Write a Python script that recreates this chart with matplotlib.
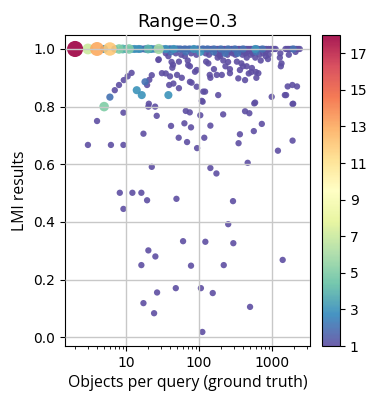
import numpy as np
import matplotlib.pyplot as plt
from matplotlib.ticker import FuncFormatter

# queries whose LMI result was perfect (y = 1.0): objects per query and how many queries
top_x = [2, 3, 4, 5, 6, 7, 8, 9, 10, 11, 12, 13, 14, 15, 16, 17, 18, 19, 20, 21, 22, 24, 25, 26,
         28, 30, 31, 33, 35, 37, 39, 41, 43, 45, 47, 50, 52, 55, 58, 61, 64, 67, 70, 74, 78, 82,
         85, 90, 96, 101, 107, 113, 119, 126, 131, 139, 147, 152, 160, 171, 180, 188, 199, 212,
         224, 236, 250, 261, 277, 290, 309, 325, 344, 361, 380, 402, 425, 447, 470, 498, 521,
         552, 590, 620, 655, 700, 742, 790, 835, 890, 950, 1010, 1060, 1120, 1530, 1610, 1690,
         1780, 1860, 1950, 2050, 2160, 2280, 2400]
top_c = [18, 7, 13, 3, 12, 2, 5, 4, 3, 5, 2, 3, 2, 3, 2, 1, 2, 2, 4, 2, 3, 2, 1, 2,
         6, 2, 1, 2, 3, 1, 2, 2, 1, 3, 1, 2, 1, 2, 1, 1, 2, 1, 1, 2, 1, 1,
         3, 1, 2, 1, 1, 2, 1, 1, 2, 1, 1, 1, 2, 1, 1, 1, 2, 1,
         1, 1, 2, 1, 1, 1, 2, 1, 1, 1, 1, 2, 1, 1, 1, 1, 1,
         1, 3, 2, 1, 1, 2, 1, 1, 1, 1, 1, 1, 1, 1, 1, 1,
         1, 1, 2, 1, 1, 1, 1]

# the rest of the queries
pts_x = [35, 41, 48, 57, 66, 78, 92, 104, 123, 137, 158, 171, 193, 206, 228, 245, 268, 288,
         315, 338, 372, 395, 432, 459, 512, 545, 606, 668, 760, 818, 900, 1300, 1700, 2100,
         28, 38, 42, 44, 43, 53, 64, 70, 75, 35, 40, 50, 58, 88, 44.5, 53, 39, 79, 114, 109,
         134, 140, 143, 180, 215, 250, 205, 265, 330, 380, 450, 363, 345, 427, 530, 600, 650,
         590, 700, 820, 880, 1280, 1350, 1320, 1640, 1900, 2200, 1500, 1950, 587, 990,
         71, 93, 75, 93, 121, 125, 160, 175, 183, 195, 230, 265, 400, 450, 480, 520, 610,
         31, 27.7, 1560,
         7, 8, 9.3, 10.5, 11.9, 19.4, 20.8, 22.5,
         5, 6, 14, 16.4, 18.2, 38,
         9.2, 4.0, 3.0, 6.2, 9.2, 20.5, 20.2, 25, 26.3, 17.3, 41.3, 52.6, 65.8, 74.6, 63, 77.6,
         68.5, 94, 104, 112, 143, 118, 214, 427, 489, 571, 363, 348, 563, 725, 464, 1205,
         1913, 1913, 22.5, 143, 173, 8.2, 12.2, 16.2, 19.4, 49, 292, 9.2,
         251, 60.4, 122, 295, 20.2, 25.2, 16.2, 77.6, 218, 1400, 26.6, 48, 106, 154, 17.3,
         24.2, 500, 111]
pts_y = [0.985, 0.99, 0.985, 0.98, 0.99, 0.985, 0.98, 0.99, 0.985, 0.98, 0.99, 0.985, 0.98,
         0.99, 0.985, 0.98, 0.99, 0.985, 0.98, 0.985, 0.99, 0.98, 0.985, 0.99, 0.98, 0.985,
         0.99, 0.98, 0.985, 0.99, 0.98, 0.985, 0.98, 0.99,
         0.964, 0.975, 0.955, 0.945, 0.935, 0.956, 0.975, 0.96, 0.94, 0.915, 0.905, 0.91,
         0.90, 0.921, 0.88, 0.864, 0.875, 0.883, 0.852, 0.82,
         0.95, 0.91, 0.90, 0.97, 0.96, 0.955, 0.91, 0.916, 0.956, 0.95, 0.94, 0.927, 0.898,
         0.892, 0.934, 0.92, 0.916, 0.97, 0.96, 0.975, 0.965, 0.97, 0.95, 0.94, 0.87, 0.875,
         0.87, 0.84, 0.81, 0.814, 0.834,
         0.944, 0.927, 0.886, 0.869, 0.852, 0.956, 0.93, 0.91, 0.84, 0.975, 0.94, 0.93, 0.94,
         0.97, 0.915, 0.92, 0.90,
         0.916, 0.962, 0.84,
         0.857, 0.875, 0.892, 0.905, 0.917, 0.875, 0.893, 0.909,
         0.80, 0.833, 0.857, 0.84, 0.886, 0.84,
         0.779, 0.75, 0.667, 0.667, 0.667, 0.81, 0.80, 0.80, 0.768, 0.706, 0.733, 0.692,
         0.785, 0.78, 0.742, 0.728, 0.677, 0.656, 0.77, 0.817, 0.734, 0.692, 0.773, 0.784,
         0.777, 0.811, 0.704, 0.673, 0.715, 0.74, 0.605, 0.647, 0.809, 0.682, 0.591, 0.587,
         0.568, 0.501, 0.501, 0.501, 0.475, 0.48, 0.472, 0.445,
         0.392, 0.333, 0.331, 0.326, 0.301, 0.28, 0.25, 0.248, 0.25, 0.268, 0.155, 0.17,
         0.17, 0.153, 0.118, 0.083, 0.105, 0.018]
pts_c = [1, 2, 1, 1, 2, 1, 1, 3, 1, 1, 2, 1, 1, 1, 2, 1, 1, 1, 1, 2, 1, 1, 1, 1, 1, 1, 2, 1,
         1, 1, 1, 1, 1, 1,
         1, 1, 1, 1, 1, 1, 1, 1, 1, 1, 1, 1, 1, 1, 1, 1, 1, 1, 1, 1,
         1, 1, 1, 1, 1, 1, 1, 1, 1, 1, 1, 1, 1, 1, 1, 1, 1, 1, 1, 1, 1, 1, 1, 1, 1, 1, 1, 1,
         1, 1, 1,
         1, 1, 1, 1, 1, 1, 1, 1, 1, 1, 1, 1, 1, 1, 1, 1, 1,
         1, 1, 1,
         1, 1, 1, 1, 1, 1, 1, 1,
         5, 2, 3, 3, 2, 3,
         1, 1, 1, 1, 1, 1, 1, 1, 1, 1, 1, 1, 1, 1, 1, 1, 1, 1, 1, 1, 1, 1, 1, 1, 1, 1, 1, 1,
         1, 1, 1, 1, 1, 1, 1, 1, 1, 1, 1, 1, 1, 1, 1, 1,
         1, 1, 1, 1, 1, 1, 1, 1, 1, 1, 1, 1, 1, 1, 1, 1, 1, 1]

x = np.array(top_x + pts_x, dtype=float)
y = np.array([1.0] * len(top_x) + pts_y)
c = np.array(top_c + pts_c, dtype=float)
order = np.argsort(c, kind='stable')
x, y, c = x[order], y[order], c[order]

fig = plt.figure(figsize=(3.83, 4.2), dpi=100)
ax = fig.add_axes([0.170, 0.176, 0.639, 0.741])
sc = ax.scatter(x, y, c=c, s=14 + 6.7 * c, cmap='Spectral_r', vmin=1, vmax=18,
                alpha=0.9, linewidths=0)
ax.set_xscale('log')
ax.set_xlim(1.46, 3300)
ax.set_ylim(-0.031, 1.049)
ax.xaxis.set_major_formatter(FuncFormatter(lambda v, p: '%d' % v))
ax.set_yticks([0, 0.2, 0.4, 0.6, 0.8, 1.0])
ax.grid(True, color='#c8c8c8', linewidth=1)
ax.set_axisbelow(False)
ax.tick_params(labelsize=10)
ax.set_title('Range=0.3', fontsize=13)
ax.set_xlabel('Objects per query (ground truth)', family='Open Sans', fontsize=11.3)
ax.set_ylabel('LMI results', family='Open Sans', fontsize=11.3)

cax = fig.add_axes([0.841, 0.176, 0.047, 0.741])
cb = fig.colorbar(sc, cax=cax, ticks=list(range(1, 18, 2)))
cb.ax.tick_params(labelsize=10)

fig.savefig('out.png', dpi=100)
